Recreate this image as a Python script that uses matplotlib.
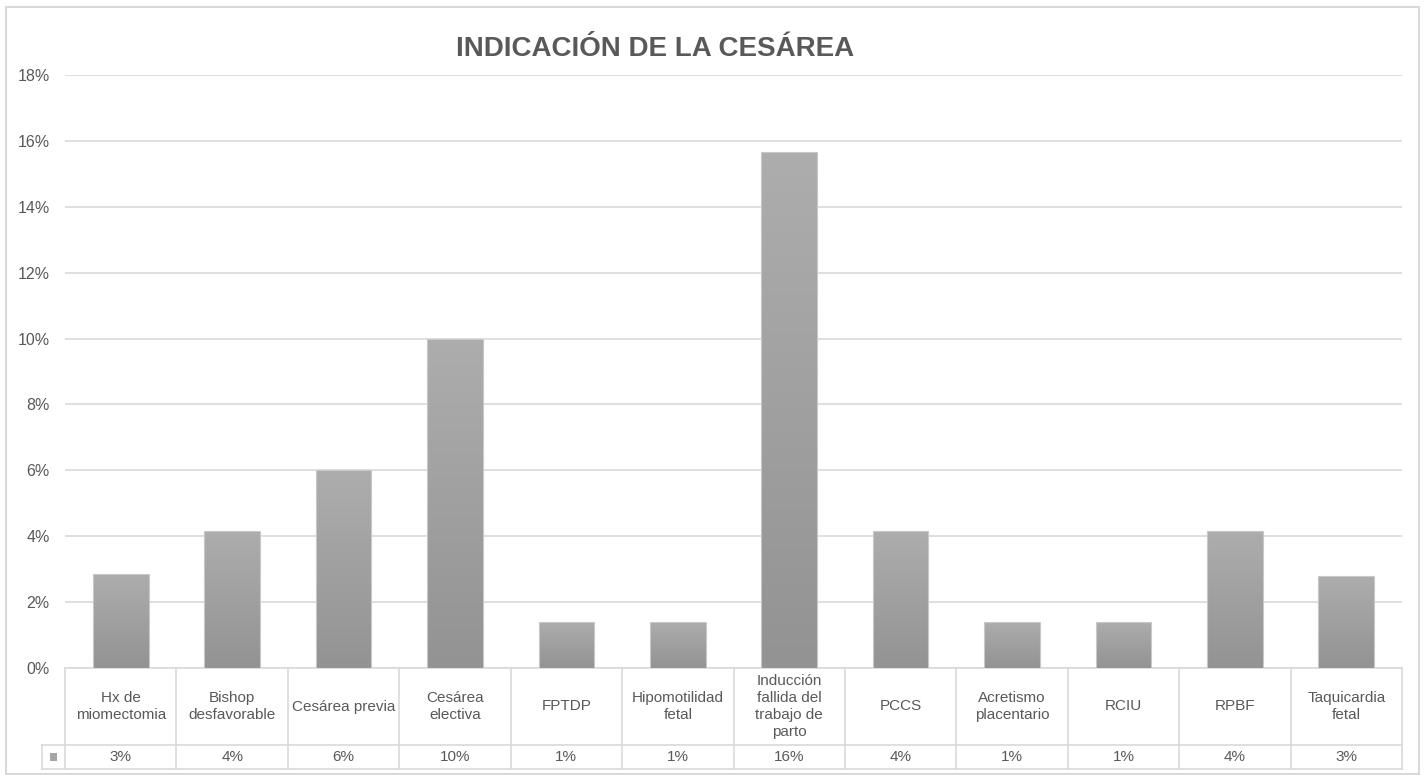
import numpy as np
import matplotlib.pyplot as plt
from matplotlib.patches import Rectangle
from matplotlib.transforms import blended_transform_factory

# indicaciones de cesarea (fraccion del total)
categorias = ["Hx de\nmiomectomia", "Bishop\ndesfavorable", "Cesárea previa",
              "Cesárea\nelectiva", "FPTDP", "Hipomotilidad\nfetal",
              "Inducción\nfallida del\ntrabajo de\nparto", "PCCS",
              "Acretismo\nplacentario", "RCIU", "RPBF", "Taquicardia\nfetal"]
valores = [0.0284, 0.0417, 0.060, 0.100, 0.0141, 0.0141,
           0.1565, 0.0417, 0.0141, 0.0141, 0.0417, 0.0280]
yticks = [0, 0.02, 0.04, 0.06, 0.08, 0.10, 0.12, 0.14, 0.16, 0.18]

gris_txt = '#595959'
gris_lin = '#d9d9d9'
plt.rcParams['font.family'] = ['Liberation Sans', 'DejaVu Sans']

fig = plt.figure(figsize=(14.24, 7.75), dpi=100)
ax = fig.add_axes([65/1424, 1 - 668/775, 1337/1424, 593/775])

x = np.arange(len(categorias))
bars = ax.bar(x, valores, width=0.5, color='none', edgecolor='#c8c8c8', linewidth=0.8, zorder=3)

# degradado vertical dentro de cada barra
cmap = plt.matplotlib.colors.LinearSegmentedColormap.from_list('g', ['#939393', '#adadad'])
grad = np.linspace(1, 0, 100).reshape(-1, 1)
for b in bars:
    x0, y0 = b.get_x(), b.get_y()
    im = ax.imshow(grad, extent=[x0, x0 + b.get_width(), y0, y0 + b.get_height()],
                   cmap=cmap, aspect='auto', zorder=2.5, interpolation='bicubic')
    im.set_clip_path(b)

ax.set_xlim(-0.5, len(categorias) - 0.5)
ax.set_ylim(0, 0.18)
ax.set_yticks(yticks)
ax.set_yticklabels([f"{t:.0%}" for t in yticks])
ax.tick_params(axis='y', length=0, pad=11, labelsize=11.5, labelcolor=gris_txt)
ax.set_xticks([])
ax.yaxis.grid(True, color=gris_lin, linewidth=1.2)
ax.set_axisbelow(True)
for s in ax.spines.values():
    s.set_visible(False)

# tabla de datos bajo el eje
tr = blended_transform_factory(ax.transData, ax.transAxes)
tra = ax.transAxes
r1 = -77 / 593
r2 = -101 / 593
kx = -23 / 1337
lk = dict(color=gris_lin, linewidth=1.2, clip_on=False)
ax.plot([0, 1], [0, 0], transform=tra, **lk)
ax.plot([kx, 1], [r1, r1], transform=tra, **lk)
ax.plot([kx, 1], [r2, r2], transform=tra, **lk)
ax.plot([kx, kx], [r1, r2], transform=tra, **lk)
for i in range(len(categorias) + 1):
    ax.plot([i - 0.5, i - 0.5], [0, r2], transform=tr, **lk)
for i, (c, v) in enumerate(zip(categorias, valores)):
    ax.text(i, r1 / 2, c, transform=tr, ha='center', va='center', fontsize=11,
            color=gris_txt, linespacing=1.25)
    ax.text(i, (r1 + r2) / 2, f"{v:.0%}", transform=tr, ha='center', va='center',
            fontsize=11, color=gris_txt)
ax.add_patch(Rectangle((kx * 0.5 - 0.0025, (r1 + r2) / 2 - 0.006), 0.005, 0.012,
                       transform=tra, facecolor='#a5a5a5', edgecolor='none', clip_on=False))

fig.text(655/1424, 1 - 49/775, 'INDICACIÓN DE LA CESÁREA', ha='center', va='center',
         fontsize=20, fontweight='bold', color=gris_txt)

fig.add_artist(Rectangle((6/1424, 1/775), 1413/1424, 767/775, transform=fig.transFigure,
                         facecolor='none', edgecolor=gris_lin, linewidth=1.5))

plt.savefig('out.png', dpi=100)
